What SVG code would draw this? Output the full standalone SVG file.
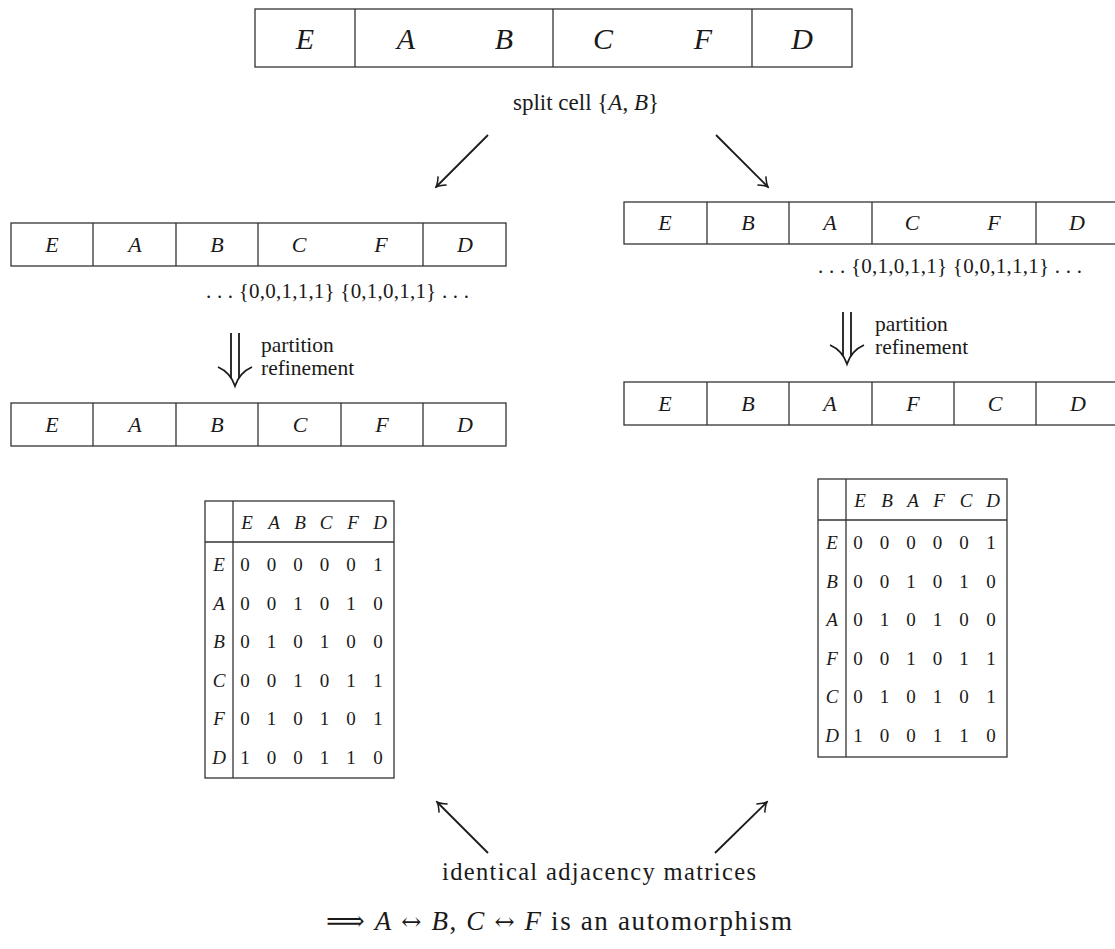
<svg xmlns="http://www.w3.org/2000/svg" width="1115" height="949" viewBox="0 0 1115 949">
<style>
text{font-family:"Liberation Serif","DejaVu Serif",serif;fill:#1a1a1a}
.m{font-style:italic}
.cell{fill:#fff;stroke:#333;stroke-width:1.3}
.div{stroke:#333;stroke-width:1.3}
.t30{font-size:30px;text-anchor:middle}
.t22{font-size:22px;text-anchor:middle}
.t19{font-size:19px;text-anchor:middle}
.lbl{font-size:23px}
.ref{font-size:21.5px}
.set{font-size:21px}
.sym{font-family:"DejaVu Serif",serif;font-style:normal}
.arr{stroke:#1a1a1a;stroke-width:1.8;fill:none}
</style>
<defs>
<marker id="ah" viewBox="-10 -7 12 14" refX="0" refY="0" markerWidth="12" markerHeight="14" markerUnits="userSpaceOnUse" orient="auto">
<path d="M-9,-6 C-5,-2.5 -2,-0.6 0,0 C-2,0.6 -5,2.5 -9,6" fill="none" stroke="#1a1a1a" stroke-width="1.5"/>
</marker>
</defs>

<g id="top-partition">
<rect class="cell" x="255" y="9" width="597" height="58"/>
<line class="div" x1="355" y1="9" x2="355" y2="67"/>
<line class="div" x1="553" y1="9" x2="553" y2="67"/>
<line class="div" x1="752" y1="9" x2="752" y2="67"/>
<text class="t30 m" x="305" y="49">E</text>
<text class="t30 m" x="406" y="49">A</text>
<text class="t30 m" x="504" y="49">B</text>
<text class="t30 m" x="603" y="49">C</text>
<text class="t30 m" x="703" y="49">F</text>
<text class="t30 m" x="802" y="49">D</text>
</g>

<g id="split-label">
<text class="lbl" x="586" y="110" text-anchor="middle">split cell {<tspan class="m">A</tspan>, <tspan class="m">B</tspan>}</text>
</g>

<g id="left-partition-1">
<rect class="cell" x="11" y="223" width="495" height="43"/>
<line class="div" x1="93" y1="223" x2="93" y2="266"/>
<line class="div" x1="176" y1="223" x2="176" y2="266"/>
<line class="div" x1="258" y1="223" x2="258" y2="266"/>
<line class="div" x1="423" y1="223" x2="423" y2="266"/>
<text class="t22 m" x="52" y="252">E</text>
<text class="t22 m" x="135" y="252">A</text>
<text class="t22 m" x="217" y="252">B</text>
<text class="t22 m" x="299" y="252">C</text>
<text class="t22 m" x="381" y="252">F</text>
<text class="t22 m" x="465" y="252">D</text>
<text class="set" x="206" y="298" textLength="263">. . .  {0,0,1,1,1} {0,1,0,1,1} . . .</text>
</g>

<g id="right-partition-1">
<rect class="cell" x="624" y="202" width="495" height="42"/>
<line class="div" x1="707" y1="202" x2="707" y2="244"/>
<line class="div" x1="789" y1="202" x2="789" y2="244"/>
<line class="div" x1="872" y1="202" x2="872" y2="244"/>
<line class="div" x1="1036" y1="202" x2="1036" y2="244"/>
<text class="t22 m" x="665" y="230">E</text>
<text class="t22 m" x="748" y="230">B</text>
<text class="t22 m" x="830" y="230">A</text>
<text class="t22 m" x="912" y="230">C</text>
<text class="t22 m" x="994" y="230">F</text>
<text class="t22 m" x="1077" y="230">D</text>
<text class="set" x="818" y="273" textLength="264">. . .  {0,1,0,1,1} {0,0,1,1,1} . . .</text>
</g>

<g id="left-refine-label">
<text class="ref" x="261" y="352">partition</text>
<text class="ref" x="261" y="375">refinement</text>
</g>
<g id="right-refine-label">
<text class="ref" x="875" y="331">partition</text>
<text class="ref" x="875" y="354">refinement</text>
</g>

<g id="left-partition-2">
<rect class="cell" x="11" y="403" width="495" height="43"/>
<line class="div" x1="93" y1="403" x2="93" y2="446"/>
<line class="div" x1="176" y1="403" x2="176" y2="446"/>
<line class="div" x1="258" y1="403" x2="258" y2="446"/>
<line class="div" x1="341" y1="403" x2="341" y2="446"/>
<line class="div" x1="423" y1="403" x2="423" y2="446"/>
<text class="t22 m" x="52" y="432">E</text>
<text class="t22 m" x="135" y="432">A</text>
<text class="t22 m" x="217" y="432">B</text>
<text class="t22 m" x="300" y="432">C</text>
<text class="t22 m" x="382" y="432">F</text>
<text class="t22 m" x="465" y="432">D</text>
</g>

<g id="right-partition-2">
<rect class="cell" x="624" y="382" width="495" height="43"/>
<line class="div" x1="707" y1="382" x2="707" y2="425"/>
<line class="div" x1="789" y1="382" x2="789" y2="425"/>
<line class="div" x1="872" y1="382" x2="872" y2="425"/>
<line class="div" x1="954" y1="382" x2="954" y2="425"/>
<line class="div" x1="1036" y1="382" x2="1036" y2="425"/>
<text class="t22 m" x="665" y="411">E</text>
<text class="t22 m" x="748" y="411">B</text>
<text class="t22 m" x="830" y="411">A</text>
<text class="t22 m" x="913" y="411">F</text>
<text class="t22 m" x="995" y="411">C</text>
<text class="t22 m" x="1078" y="411">D</text>
</g>

<g id="left-matrix">
<rect class="cell" x="205" y="501" width="189" height="277"/>
<line class="div" x1="233" y1="501" x2="233" y2="778"/>
<line class="div" x1="205" y1="542" x2="394" y2="542"/>
<g class="t19 m">
<text x="247" y="529">E</text><text x="274" y="529">A</text><text x="300" y="529">B</text><text x="326" y="529">C</text><text x="353" y="529">F</text><text x="380" y="529">D</text>
<text x="219" y="571">E</text><text x="219" y="610">A</text><text x="219" y="648">B</text><text x="219" y="687">C</text><text x="219" y="725">F</text><text x="219" y="764">D</text>
</g>
<g class="t19">
<text y="571"><tspan x="245">0</tspan><tspan x="271.5">0</tspan><tspan x="298">0</tspan><tspan x="324.5">0</tspan><tspan x="351">0</tspan><tspan x="378">1</tspan></text>
<text y="610"><tspan x="245">0</tspan><tspan x="271.5">0</tspan><tspan x="298">1</tspan><tspan x="324.5">0</tspan><tspan x="351">1</tspan><tspan x="378">0</tspan></text>
<text y="648"><tspan x="245">0</tspan><tspan x="271.5">1</tspan><tspan x="298">0</tspan><tspan x="324.5">1</tspan><tspan x="351">0</tspan><tspan x="378">0</tspan></text>
<text y="687"><tspan x="245">0</tspan><tspan x="271.5">0</tspan><tspan x="298">1</tspan><tspan x="324.5">0</tspan><tspan x="351">1</tspan><tspan x="378">1</tspan></text>
<text y="725"><tspan x="245">0</tspan><tspan x="271.5">1</tspan><tspan x="298">0</tspan><tspan x="324.5">1</tspan><tspan x="351">0</tspan><tspan x="378">1</tspan></text>
<text y="764"><tspan x="245">1</tspan><tspan x="271.5">0</tspan><tspan x="298">0</tspan><tspan x="324.5">1</tspan><tspan x="351">1</tspan><tspan x="378">0</tspan></text>
</g>
</g>

<g id="right-matrix">
<rect class="cell" x="818" y="479" width="189" height="278"/>
<line class="div" x1="846" y1="479" x2="846" y2="757"/>
<line class="div" x1="818" y1="520" x2="1007" y2="520"/>
<g class="t19 m">
<text x="860" y="507">E</text><text x="887" y="507">B</text><text x="913" y="507">A</text><text x="939" y="507">F</text><text x="966" y="507">C</text><text x="993" y="507">D</text>
<text x="832" y="549">E</text><text x="832" y="588">B</text><text x="832" y="626">A</text><text x="832" y="665">F</text><text x="832" y="703">C</text><text x="832" y="742">D</text>
</g>
<g class="t19">
<text y="549"><tspan x="858">0</tspan><tspan x="884.5">0</tspan><tspan x="911">0</tspan><tspan x="937.5">0</tspan><tspan x="964">0</tspan><tspan x="991">1</tspan></text>
<text y="588"><tspan x="858">0</tspan><tspan x="884.5">0</tspan><tspan x="911">1</tspan><tspan x="937.5">0</tspan><tspan x="964">1</tspan><tspan x="991">0</tspan></text>
<text y="626"><tspan x="858">0</tspan><tspan x="884.5">1</tspan><tspan x="911">0</tspan><tspan x="937.5">1</tspan><tspan x="964">0</tspan><tspan x="991">0</tspan></text>
<text y="665"><tspan x="858">0</tspan><tspan x="884.5">0</tspan><tspan x="911">1</tspan><tspan x="937.5">0</tspan><tspan x="964">1</tspan><tspan x="991">1</tspan></text>
<text y="703"><tspan x="858">0</tspan><tspan x="884.5">1</tspan><tspan x="911">0</tspan><tspan x="937.5">1</tspan><tspan x="964">0</tspan><tspan x="991">1</tspan></text>
<text y="742"><tspan x="858">1</tspan><tspan x="884.5">0</tspan><tspan x="911">0</tspan><tspan x="937.5">1</tspan><tspan x="964">1</tspan><tspan x="991">0</tspan></text>
</g>
</g>

<g id="identical-label">
<text x="442" y="880" font-size="24.5" textLength="314">identical adjacency matrices</text>
</g>

<g id="conclusion">
<text x="326" y="930" font-size="27" textLength="466"><tspan class="sym">⟹</tspan>  <tspan class="m">A</tspan> <tspan class="sym" font-size="24">↔</tspan> <tspan class="m">B</tspan>, <tspan class="m">C</tspan> <tspan class="sym" font-size="24">↔</tspan> <tspan class="m">F</tspan> is an automorphism</text>
</g>

<g id="connectors">
<line class="arr" x1="488" y1="135" x2="436" y2="187" marker-end="url(#ah)"/>
<line class="arr" x1="716" y1="135" x2="768" y2="187" marker-end="url(#ah)"/>
<line class="arr" x1="488" y1="853" x2="437" y2="802" marker-end="url(#ah)"/>
<line class="arr" x1="715" y1="853" x2="767" y2="802" marker-end="url(#ah)"/>
<path class="arr" d="M231,333 V378 M239,333 V378"/>
<path class="arr" d="M218,367 C227,371 232,377 235,386 C238,377 243,371 252,367"/>
<path class="arr" d="M843,312 V356 M851,312 V356"/>
<path class="arr" d="M830,345 C839,349 844,355 847,364 C850,355 855,349 864,345"/>
</g>
</svg>
